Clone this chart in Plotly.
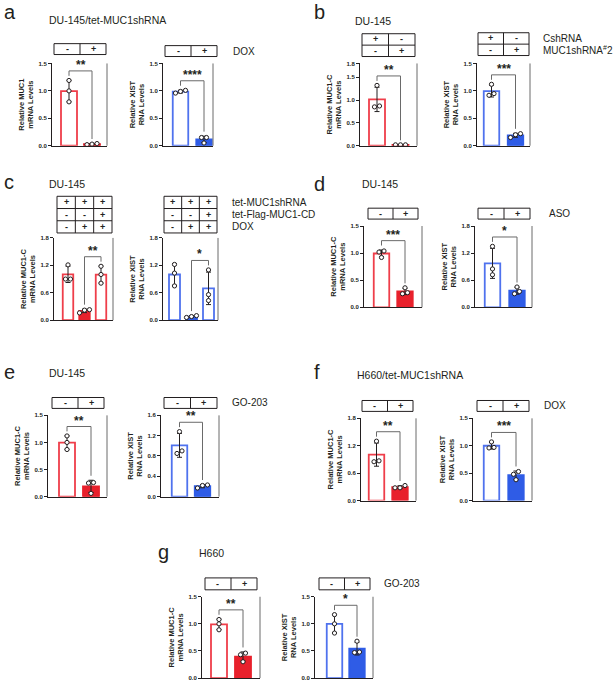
import numpy as np
import plotly.graph_objects as go

W, H = 613, 685
FONT = "Liberation Sans, Arial, Helvetica, sans-serif"
INK = "#231f20"
GRAY = "#6a6a6a"
RED_LINE, RED_FILL = "#ef3e4a", "#e8212c"
BLUE_LINE, BLUE_FILL = "#4f72ee", "#2f5ce6"

# ---------------- data ----------------
MUC1_LABEL = ["Relative MUC1", "mRNA Levels"]
MUCC_LABEL = ["Relative MUC1-C", "mRNA Levels"]
XIST_LABEL = ["Relative XIST", "RNA Levels"]

a_muc1 = [[1.19, 1.00, 0.80], [0.02, 0.04, 0.03]]
a_xist = [[1.01, 0.99, 0.96], [0.15, 0.15, 0.05]]
b_muc1c = [[1.32, 0.85, 0.87], [0.02, 0.02, 0.02]]
b_xist = [[1.12, 0.95, 0.92], [0.22, 0.20, 0.15]]
c_muc1c = [[1.21, 0.90, 0.90], [0.23, 0.22, 0.16], [1.18, 1.00, 0.81]]
c_xist = [[1.22, 1.03, 0.75], [0.06, 0.08, 0.10], [1.10, 0.56, 0.43]]
d_muc1c = [[1.04, 1.02, 0.92], [0.36, 0.27, 0.25]]
d_xist = [[1.35, 0.85, 0.72], [0.45, 0.35, 0.30]]
e_muc1c = [[1.12, 1.00, 0.87], [0.26, 0.25, 0.06]]
e_xist = [[1.28, 0.90, 0.85], [0.23, 0.22, 0.17]]
f_muc1c = [[1.30, 0.85, 0.87], [0.33, 0.28, 0.28]]
f_xist = [[1.07, 0.97, 0.96], [0.53, 0.48, 0.38]]
g_muc1c = [[1.08, 1.00, 0.89], [0.46, 0.43, 0.30]]
g_xist = [[1.17, 1.00, 0.83], [0.68, 0.47, 0.48]]

sig_a = ["**", "****"]
sig_b = ["**", "***"]
sig_c = ["**", "*"]
sig_d = ["***", "*"]
sig_e = ["**", "**"]
sig_f = ["**", "***"]
sig_g = ["**", "*"]

ticks_15 = [0.0, 0.5, 1.0, 1.5]
ticks_18b = [0.0, 0.5, 1.0, 1.5, 1.8]
ticks_18 = [0.0, 0.6, 1.2, 1.8]
ticks_16 = [0.0, 0.4, 0.8, 1.2, 1.6]

treat_a = [["-", "+"]]
treat_b = [["+", "-"], ["-", "+"]]
treat_c = [["+", "+", "+"], ["-", "-", "+"], ["-", "+", "+"]]

labels_a = ["DOX"]
labels_b = ["CshRNA", "MUC1shRNA<sup>#</sup>2"]
labels_c = ["tet-MUC1shRNA", "tet-Flag-MUC1-CD", "DOX"]
labels_d = ["ASO"]
labels_e = ["GO-203"]
labels_f = ["DOX"]
labels_g = ["GO-203"]

panel_letters = ["a", "b", "c", "d", "e", "f", "g"]
panel_titles = ["DU-145/tet-MUC1shRNA", "DU-145", "DU-145", "DU-145", "DU-145",
                "H660/tet-MUC1shRNA", "H660"]

# ---------------- layout / style (pixel geometry) ----------------
def geo(L, R, T, B, c, bw, box):
    return dict(L=L, R=R, T=T, B=B, c=c, bw=bw, box=box)

charts = [
    dict(pts=a_muc1, sig=sig_a[0], pair=(0, 1), lab=MUC1_LABEL, col="r", fill=[0, 1], ymax=1.5, ticks=ticks_15,
         treat=treat_a, g=geo(52, 107, 61, 144, (69, 92), 16, (54, 106, 41, 52))),
    dict(pts=a_xist, sig=sig_a[1], pair=(0, 1), lab=XIST_LABEL, col="b", fill=[0, 1], ymax=1.5, ticks=ticks_15,
         treat=treat_a, g=geo(163, 213, 61, 144, (180.5, 204), 15.5, (165, 217, 43, 54))),
    dict(pts=b_muc1c, sig=sig_b[0], pair=(0, 1), lab=MUCC_LABEL, col="r", fill=[0, 1], ymax=1.8, ticks=ticks_18b,
         treat=treat_b, g=geo(360, 417, 61, 144, (377, 400.5), 16, (362, 415, 31, 54))),
    dict(pts=b_xist, sig=sig_b[1], pair=(0, 1), lab=XIST_LABEL, col="b", fill=[0, 1], ymax=1.5, ticks=ticks_15,
         treat=treat_b, g=geo(477, 530, 61, 144, (491.5, 515.5), 15.5, (478, 529, 30, 53))),
    dict(pts=c_muc1c, sig=sig_c[0], pair=(1, 2), lab=MUCC_LABEL, col="r", fill=[0, 1, 0], ymax=1.8, ticks=ticks_18,
         treat=treat_c, g=geo(54, 113, 237, 320, (68, 84.5), 10.5, (57, 112, 195, 232))),
    dict(pts=c_xist, sig=sig_c[1], pair=(1, 2), lab=XIST_LABEL, col="b", fill=[0, 1, 0], ymax=1.8, ticks=ticks_18,
         treat=treat_c, g=geo(163, 218, 237, 320, (174.5, 191.5), 11, (164, 217, 195, 232))),
    dict(pts=d_muc1c, sig=sig_d[0], pair=(0, 1), lab=MUCC_LABEL, col="r", fill=[0, 1], ymax=1.5, ticks=ticks_15,
         treat=treat_a, g=geo(364, 422, 225, 307, (381.5, 405), 15.5, (368, 418, 207, 218))),
    dict(pts=d_xist, sig=sig_d[1], pair=(0, 1), lab=XIST_LABEL, col="b", fill=[0, 1], ymax=1.8, ticks=ticks_18,
         treat=treat_a, g=geo(475, 532, 225, 307, (492.5, 517), 15.5, (478, 530, 207, 218))),
    dict(pts=e_muc1c, sig=sig_e[0], pair=(0, 1), lab=MUCC_LABEL, col="r", fill=[0, 1], ymax=1.5, ticks=ticks_15,
         treat=treat_a, g=geo(48, 107, 416, 498, (67, 91), 16, (52, 104, 398, 409))),
    dict(pts=e_xist, sig=sig_e[1], pair=(0, 1), lab=XIST_LABEL, col="b", fill=[0, 1], ymax=1.6, ticks=ticks_16,
         treat=treat_a, g=geo(161, 219, 416, 498, (179.5, 202.5), 15.5, (164, 217, 398, 409))),
    dict(pts=f_muc1c, sig=sig_f[0], pair=(0, 1), lab=MUCC_LABEL, col="r", fill=[0, 1], ymax=1.8, ticks=ticks_18,
         treat=treat_a, g=geo(361, 416, 419, 502, (376.5, 400), 15.5, (362, 413, 401, 412))),
    dict(pts=f_xist, sig=sig_f[1], pair=(0, 1), lab=XIST_LABEL, col="b", fill=[0, 1], ymax=1.5, ticks=ticks_15,
         treat=treat_a, g=geo(473, 532, 419, 502, (491.5, 516), 15.5, (477, 529, 401, 412))),
    dict(pts=g_muc1c, sig=sig_g[0], pair=(0, 1), lab=MUCC_LABEL, col="r", fill=[0, 1], ymax=1.5, ticks=ticks_15,
         treat=treat_a, g=geo(202, 260, 599, 681, (219, 243), 16, (205, 257, 580, 592))),
    dict(pts=g_xist, sig=sig_g[1], pair=(0, 1), lab=XIST_LABEL, col="b", fill=[0, 1], ymax=1.5, ticks=ticks_15,
         treat=treat_a, g=geo(315, 373, 599, 681, (334.5, 357), 15.5, (319, 370, 580, 592))),
]

# side labels: (text list, x px, index of chart whose box rows they follow)
side_labels = [(labels_a, 231, 1), (labels_b, 541, 3), (labels_c, 230, 5), (labels_d, 547, 7),
               (labels_e, 230, 9), (labels_f, 542, 11), (labels_g, 382, 13)]
# panel heads: letter pos, title pos (px)
heads = [((2, 9), (47, 17)), ((312, 9), (353, 18)), ((2, 181), (47, 183)), ((312, 183), (360, 183)),
         ((2, 372), (47, 373)), ((312, 372), (355, 375)), ((156, 554), (197, 555))]


def px_x(x):
    return x / W


def px_y(y):
    return 1 - y / H


def spread(vals, thr, step):
    order = np.argsort(vals)
    clusters = []
    for idx in order:
        if clusters and abs(vals[idx] - vals[clusters[-1][-1]]) < thr:
            clusters[-1].append(idx)
        else:
            clusters.append([idx])
    off = [0.0] * len(vals)
    for cl in clusters:
        k = len(cl)
        for j, idx in enumerate(cl):
            off[idx] = (j - (k - 1) / 2) * step
    return off


fig = go.Figure()
shapes, annotations, axes = [], [], {}

for i, ch in enumerate(charts, start=1):
    g = ch["g"]
    pts = ch["pts"]
    n = len(pts)
    means = [float(np.mean(p)) for p in pts]
    sds = [float(np.std(p, ddof=1)) for p in pts]
    unit = g["c"][1] - g["c"][0]
    xr = [(g["L"] - g["c"][0]) / unit, (g["R"] - g["c"][0]) / unit]
    lc, fc = (RED_LINE, RED_FILL) if ch["col"] == "r" else (BLUE_LINE, BLUE_FILL)
    xa, ya = f"x{i}", f"y{i}"
    ymax = ch["ymax"]

    fig.add_trace(go.Bar(
        x=list(range(n)), y=means, width=g["bw"] / unit,
        marker=dict(color=[fc if f else "white" for f in ch["fill"]],
                    line=dict(color=[fc if f else lc for f in ch["fill"]], width=1.8)),
        error_y=dict(type="data", array=sds, color=INK, thickness=1, width=2.5),
        xaxis=xa, yaxis=ya, showlegend=False, hoverinfo="skip"))

    xs, ys = [], []
    for k, p in enumerate(pts):
        off = spread(p, 0.05 * ymax, 5.0 / unit)
        xs += [k + o for o in off]
        ys += list(p)
    fig.add_trace(go.Scatter(
        x=xs, y=ys, mode="markers",
        marker=dict(symbol="circle", size=4.2, color="white", line=dict(color=INK, width=1)),
        xaxis=xa, yaxis=ya, showlegend=False, hoverinfo="skip"))

    # significance bracket
    tops = [max(max(p), m + s) for p, m, s in zip(pts, means, sds)]
    a, b = ch["pair"]
    gap = 0.055 * ymax
    da, db = tops[a] + gap, tops[b] + gap
    by = max(da, db) + 0.06 * ymax
    shapes.append(dict(type="path", xref=xa, yref=ya,
                       path=f"M {a},{da} L {a},{by} L {b},{by} L {b},{db}",
                       line=dict(color=GRAY, width=1)))
    annotations.append(dict(x=(a + b) / 2, y=by, xref=xa, yref=ya, text=f"<b>{ch['sig']}</b>",
                            showarrow=False, yanchor="bottom", xanchor="center", yshift=-3,
                            font=dict(size=12, color=INK)))

    # right frame line
    shapes.append(dict(type="line", xref="paper", yref="paper", x0=px_x(g["R"]), x1=px_x(g["R"]),
                       y0=px_y(g["B"]), y1=px_y(g["T"]), line=dict(color=GRAY, width=1)))

    # treatment box
    bx0, bx1, by0, by1 = g["box"]
    rows = ch["treat"]
    nr, nc = len(rows), len(rows[0])
    shapes.append(dict(type="rect", xref="paper", yref="paper", x0=px_x(bx0), x1=px_x(bx1),
                       y0=px_y(by1), y1=px_y(by0), line=dict(color=INK, width=1)))
    rh = (by1 - by0) / nr
    cw = (bx1 - bx0) / nc
    for r in range(1, nr):
        yy = px_y(by0 + r * rh)
        shapes.append(dict(type="line", xref="paper", yref="paper", x0=px_x(bx0), x1=px_x(bx1),
                           y0=yy, y1=yy, line=dict(color=INK, width=1)))
    for c in range(1, nc):
        xx = px_x(bx0 + c * cw)
        shapes.append(dict(type="line", xref="paper", yref="paper", x0=xx, x1=xx,
                           y0=px_y(by1), y1=px_y(by0), line=dict(color=INK, width=1)))
    for r, row in enumerate(rows):
        for c, sym in enumerate(row):
            annotations.append(dict(x=px_x(bx0 + (c + 0.5) * cw), y=px_y(by0 + (r + 0.5) * rh),
                                    xref="paper", yref="paper", text=f"<b>{sym}</b>", showarrow=False,
                                    xanchor="center", yanchor="middle", font=dict(size=9, color=INK)))

    axes[f"xaxis{i}"] = dict(domain=[px_x(g["L"]), px_x(g["R"])], range=xr, anchor=ya,
                             showline=True, linecolor=INK, linewidth=1, showticklabels=False,
                             ticks="", showgrid=False, zeroline=False, fixedrange=True)
    axes[f"yaxis{i}"] = dict(domain=[px_y(g["B"]), px_y(g["T"])], range=[0, ymax], anchor=xa,
                             tickmode="array", tickvals=ch["ticks"],
                             ticktext=[f"<b>{v:.1f}</b>" for v in ch["ticks"]],
                             ticks="outside", ticklen=3, tickwidth=1, tickcolor=INK,
                             showline=True, linecolor=INK, linewidth=1, showgrid=False, zeroline=False,
                             tickfont=dict(size=6, color=INK), fixedrange=True,
                             title=dict(text="<br>".join(f"<b>{t}</b>" for t in ch["lab"]),
                                        font=dict(size=7.5, color=INK), standoff=3))

for texts, lx, ci in side_labels:
    g = charts[ci]["g"]
    bx0, bx1, by0, by1 = g["box"]
    rh = (by1 - by0) / len(texts)
    for r, t in enumerate(texts):
        annotations.append(dict(x=px_x(lx), y=px_y(by0 + (r + 0.5) * rh), xref="paper", yref="paper",
                                text=t, showarrow=False, xanchor="left", yanchor="middle",
                                font=dict(size=10, color=INK)))

for (lp, tp), letter, title in zip(heads, panel_letters, panel_titles):
    annotations.append(dict(x=px_x(lp[0]), y=px_y(lp[1]), xref="paper", yref="paper", text=letter,
                            showarrow=False, xanchor="left", yanchor="middle",
                            font=dict(size=20, color=INK)))
    annotations.append(dict(x=px_x(tp[0]), y=px_y(tp[1]), xref="paper", yref="paper", text=title,
                            showarrow=False, xanchor="left", yanchor="middle",
                            font=dict(size=10.5, color=INK)))

fig.update_layout(width=W, height=H, margin=dict(l=0, r=0, t=0, b=0, pad=0),
                  paper_bgcolor="white", plot_bgcolor="white",
                  font=dict(family=FONT, color=INK), shapes=shapes, annotations=annotations,
                  bargap=0, hovermode=False, **axes)

fig.write_html("out.html", config={"displayModeBar": False, "staticPlot": True},
               post_script="document.body.style.margin='0px';")
